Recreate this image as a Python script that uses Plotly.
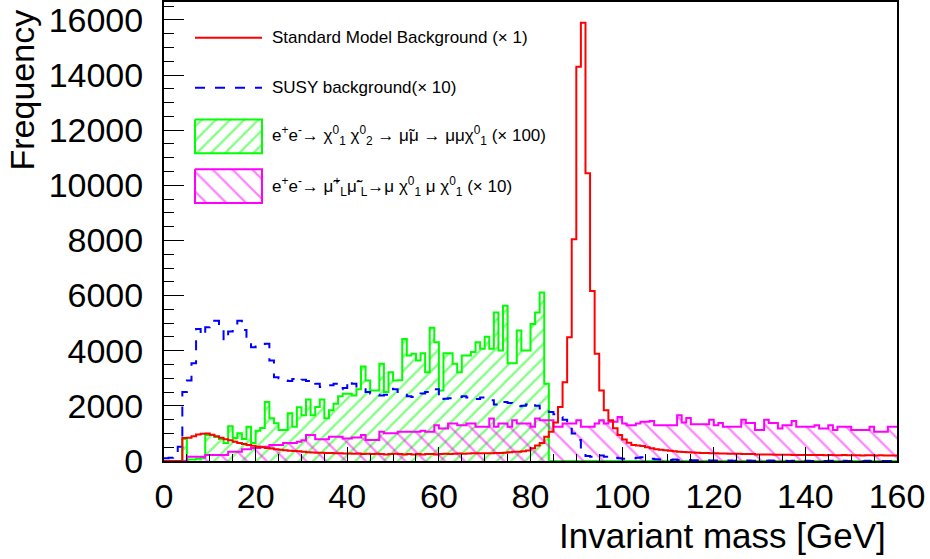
import plotly.graph_objects as go

# 1 GeV bins from 0 to 160 GeV
bin_edges = list(range(0, 161))

# Standard Model background (x 1)
sm_bkg = [
    0, 0, 0, 0, 830, 840, 900, 960, 990, 1000,
    950, 900, 840, 790, 750, 700, 650, 620, 580, 550,
    520, 500, 470, 450, 430, 410, 390, 370, 360, 350,
    340, 320, 310, 300, 300, 290, 290, 280, 280, 270,
    270, 260, 270, 250, 260, 250, 260, 250, 240, 250,
    260, 250, 240, 250, 240, 250, 240, 250, 250, 240,
    250, 260, 250, 260, 270, 260, 270, 280, 280, 280,
    280, 280, 290, 290, 300, 320, 340, 340, 350, 380,
    460, 560, 650, 880, 1060, 1400, 1960, 2860, 4490, 8040,
    14300, 15900, 10440, 6170, 3890, 2560, 1840, 1480, 1190, 940,
    780, 660, 580, 560, 540, 500, 460, 430, 410, 390,
    370, 350, 340, 330, 320, 310, 300, 290, 290, 280,
    280, 270, 270, 260, 260, 260, 250, 250, 250, 240,
    240, 240, 240, 230, 230, 230, 230, 220, 220, 220,
    220, 220, 220, 220, 210, 220, 210, 210, 220, 210,
    210, 210, 200, 210, 210, 200, 210, 200, 200, 200,
]

# SUSY background (x 10)
susy_bkg = [
    100, 120, 150, 520, 2500, 2920, 3550, 4790, 4550, 4850,
    5090, 5090, 4900, 4370, 4700, 4800, 5090, 4750, 4370, 4130,
    4150, 4200, 4250, 3650, 3040, 3000, 2920, 2900, 2970, 2900,
    2950, 2900, 2950, 2800, 2680, 2680, 2750, 2800, 2600, 2650,
    2920, 2800, 2660, 2600, 2500, 2450, 2400, 2380, 2400, 2620,
    2600, 2500, 2400, 2350, 2320, 2400, 2450, 2500, 2620, 2600,
    2200, 2260, 2280, 2300, 2320, 2350, 2300, 2320, 2250, 2300,
    2280, 2200, 2050, 2020, 2140, 2100, 1990, 1990, 2000, 2050,
    2100, 2000, 1900, 1850, 1780, 1700, 1600, 1500, 1300, 1000,
    760, 220, 180, 150, 120, 200, 150, 100, 120, 100,
    80, 90, 100, 120, 140, 100, 80, 60, 50, 60,
    40, 50, 40, 30, 40, 30, 30, 20, 30, 20,
    20, 30, 20, 20, 10, 20, 10, 20, 10, 10,
    10, 10, 20, 10, 10, 10, 0, 10, 10, 0,
    10, 0, 10, 0, 0, 10, 0, 0, 10, 0,
    0, 0, 0, 10, 0, 0, 0, 0, 0, 0,
]

# e+e- -> chi1 chi2 -> smuon mu -> mu mu chi1 (x 100)
neutralino_sig = [
    0, 0, 0, 0, 800, 50, 50, 80, 120, 940,
    940, 870, 800, 650, 1260, 830, 1010, 800, 1240, 650,
    1100, 1200, 2140, 1550, 1370, 1120, 1120, 1730, 1240, 1950,
    1660, 2230, 1660, 1960, 2230, 1550, 1840, 2080, 2350, 2440,
    2440, 2380, 2600, 3430, 2920, 2560, 2560, 3530, 2500, 3220,
    2920, 2930, 4430, 3830, 3890, 3650, 3910, 3220, 4830, 4310,
    2560, 3910, 3910, 3530, 3220, 3830, 3830, 3950, 4310, 4070,
    4510, 4070, 5390, 4010, 5630, 3550, 3550, 4730, 4010, 4010,
    4970, 5390, 6110, 2800, 0, 0, 0, 0, 0, 0,
] + [0] * 70

# e+e- -> smuon_L smuon_L -> mu chi1 mu chi1 (x 10)
smuon_sig = [
    0, 0, 0, 0, 0, 150, 150, 150, 150, 220,
    220, 220, 220, 220, 340, 340, 340, 430, 430, 470,
    470, 520, 520, 580, 580, 580, 650, 650, 650, 700,
    750, 940, 940, 790, 790, 790, 880, 880, 880, 820,
    820, 850, 850, 940, 760, 760, 760, 1060, 1010, 1010,
    1010, 1060, 1060, 1060, 1060, 1060, 1100, 1060, 1060, 1300,
    1180, 1180, 1360, 1360, 1300, 1300, 1360, 1360, 1240, 1240,
    1240, 1540, 1240, 1360, 1360, 1240, 1480, 1360, 1360, 1360,
    1240, 1540, 1480, 1480, 1480, 1240, 1240, 1360, 1360, 1360,
    1480, 1240, 1240, 1240, 1360, 1480, 1360, 1420, 1420, 1600,
    1360, 1300, 1300, 1360, 1420, 1420, 1450, 1300, 1300, 1300,
    1300, 1300, 1660, 1400, 1560, 1330, 1330, 1330, 1330, 1500,
    1300, 1380, 1240, 1240, 1240, 1240, 1500, 1380, 1380, 1120,
    1120, 1500, 1380, 1380, 1180, 1300, 1300, 1450, 1240, 1240,
    1240, 1240, 1300, 1180, 1180, 1300, 1120, 1240, 1240, 1240,
    1120, 1120, 1120, 1120, 1240, 1060, 1060, 1060, 1240, 1240,
]

x_ticks = [0, 20, 40, 60, 80, 100, 120, 140, 160]
y_ticks = [0, 2000, 4000, 6000, 8000, 10000, 12000, 14000, 16000]

FONT = "Liberation Sans, Arial, sans-serif"
GREEN, MAGENTA, BLUE, RED = "#00ff00", "#ff00ff", "#0000ff", "#ff0000"
CLEAR = "rgba(0,0,0,0)"

# hatch styles: (direction, tile size, line solidity)
GREEN_HATCH = dict(shape="/", fgcolor=GREEN, bgcolor=CLEAR, size=10, solidity=0.22)
MAGENTA_HATCH = dict(shape="\\", fgcolor=MAGENTA, bgcolor=CLEAR, size=14, solidity=0.16)

# frame geometry in pixels
W, H = 930, 559
L, R, T, B = 164, 33, 0, 98
X0, X1 = L, W - R
Y0, Y1 = H - B, T


def steps(vals):
    return bin_edges, list(vals) + [vals[-1]]


fig = go.Figure()

gx, gy = steps(neutralino_sig)
fig.add_trace(go.Scatter(
    x=gx, y=gy, mode="lines", line=dict(color=GREEN, width=2, shape="hv"),
    fill="tozeroy", fillcolor=CLEAR, fillpattern=GREEN_HATCH,
))

mx, my = steps(smuon_sig)
fig.add_trace(go.Scatter(
    x=mx, y=my, mode="lines", line=dict(color=MAGENTA, width=2, shape="hv"),
    fill="tozeroy", fillcolor=CLEAR, fillpattern=MAGENTA_HATCH,
))

bx, by = steps(susy_bkg)
fig.add_trace(go.Scatter(
    x=bx, y=by, mode="lines",
    line=dict(color=BLUE, width=2, shape="hv", dash="10px,10px"),
))

rx, ry = steps(sm_bkg)
fig.add_trace(go.Scatter(
    x=rx, y=ry, mode="lines", line=dict(color=RED, width=2, shape="hv"),
))

# ---- legend drawn in pixel coordinates on an overlay axis pair ----
box_x0, box_x1 = 195, 262
legend_boxes = [
    (118, 152, GREEN, GREEN_HATCH),
    (168, 202, MAGENTA, MAGENTA_HATCH),
]
for ya, yb, col, hatch in legend_boxes:
    fig.add_trace(go.Scatter(
        x=[box_x0, box_x1, box_x1, box_x0, box_x0],
        y=[ya, ya, yb, yb, ya],
        xaxis="x2", yaxis="y2", mode="lines",
        line=dict(color=col, width=2), fill="toself",
        fillcolor=CLEAR, fillpattern=hatch,
    ))

shapes = [
    dict(type="line", xref="x2", yref="y2", x0=box_x0, x1=box_x1, y0=36, y1=36,
         line=dict(color=RED, width=2)),
    dict(type="line", xref="x2", yref="y2", x0=box_x0, x1=box_x1, y0=86, y1=86,
         line=dict(color=BLUE, width=2, dash="10px,10px")),
]

legend_texts = [
    (36, "Standard Model Background (× 1)"),
    (86, "SUSY background(× 10)"),
    (134, "e<sup>+</sup>e<sup>-</sup>→ χ<sup>0</sup><sub>1</sub> χ<sup>0</sup><sub>2</sub>"
          " → \u03bc\u0303\u03bc → μμχ<sup>0</sup><sub>1</sub> (× 100)"),
    (185, "e<sup>+</sup>e<sup>-</sup>→ \u03bc\u0303<sup>+</sup><sub>L</sub>"
          "\u03bc\u0303<sup>-</sup><sub>L</sub>"
          "→μ χ<sup>0</sup><sub>1</sub> μ χ<sup>0</sup><sub>1</sub> (× 10)"),
]
annotations = [
    dict(xref="x2", yref="y2", x=270, y=yy, text=tt, showarrow=False,
         xanchor="left", yanchor="middle",
         font=dict(family=FONT, size=17, color="black"))
    for yy, tt in legend_texts
]

# axis titles
annotations.append(dict(
    xref="paper", yref="paper", x=(888 - L) / (X1 - X0), y=(Y0 - 536) / (Y0 - Y1),
    text="Invariant mass [GeV]", showarrow=False, xanchor="right", yanchor="middle",
    font=dict(family=FONT, size=35, color="black"),
))
annotations.append(dict(
    xref="paper", yref="paper", x=(22 - L) / (X1 - X0), y=(Y0 - 6) / (Y0 - Y1),
    text="Frequency", textangle=-90, showarrow=False, xanchor="center", yanchor="top",
    font=dict(family=FONT, size=34, color="black"),
))

fig.update_layout(
    width=W, height=H,
    margin=dict(l=L, r=R, t=T, b=B, pad=0),
    paper_bgcolor="white", plot_bgcolor="white",
    showlegend=False,
    font=dict(family=FONT, color="black"),
    xaxis=dict(
        range=[0, 160], tickvals=x_ticks, ticktext=[str(v) for v in x_ticks],
        ticks="inside", ticklen=14, tickwidth=1, tickcolor="black",
        minor=dict(dtick=5, ticks="inside", ticklen=7, tickwidth=1, tickcolor="black"),
        showline=True, linewidth=2, linecolor="black", mirror=True,
        showgrid=False, zeroline=False,
        tickfont=dict(family=FONT, size=34, color="black"),
        ticklabelstandoff=4,
    ),
    yaxis=dict(
        range=[0, 16650], tickvals=y_ticks, ticktext=[str(v) for v in y_ticks],
        ticks="inside", ticklen=20, tickwidth=1, tickcolor="black",
        minor=dict(dtick=500, ticks="inside", ticklen=10, tickwidth=1, tickcolor="black"),
        showline=True, linewidth=2, linecolor="black", mirror=True,
        showgrid=False, zeroline=False,
        tickfont=dict(family=FONT, size=34, color="black"),
        ticklabelstandoff=12,
    ),
    xaxis2=dict(overlaying="x", range=[X0, X1], visible=False, anchor="y2"),
    yaxis2=dict(overlaying="y", range=[Y0, Y1], visible=False, anchor="x2"),
    shapes=shapes,
    annotations=annotations,
)

fig.write_html("out.html")
